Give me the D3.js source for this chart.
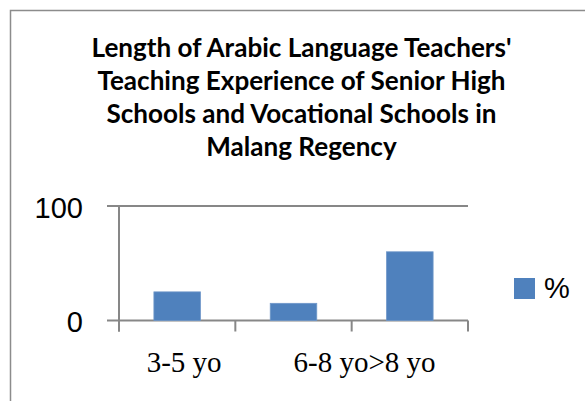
<!DOCTYPE html>
<html>
<head>
<meta charset="utf-8">
<script src="https://cdn.jsdelivr.net/npm/d3@7"></script>
<style>
  html, body { margin: 0; padding: 0; background: #fff; overflow: hidden; }
  svg { display: block; }
</style>
</head>
<body>
<svg id="chart" width="585" height="401"></svg>
<script>
const titleLines = [
  "Length of Arabic Language Teachers'",
  "Teaching Experience of Senior High",
  "Schools and Vocational Schools in",
  "Malang Regency"
];
const categories = ["3-5 yo", "6-8 yo", ">8 yo"];
const seriesName = "%";
const values = [25, 15, 60];
const yTicks = [0, 100];

const svg = d3.select("#chart");
const gridColor = "#878787";
const barColor = "#4F81BD";

// outer chart border (extends beyond the viewport on right/bottom)
svg.append("rect")
  .attr("x", 10.5).attr("y", 10.5)
  .attr("width", 700).attr("height", 500)
  .attr("fill", "none").attr("stroke", "#8c8c8c").attr("stroke-width", 1.5);

// title
const title = svg.append("text")
  .attr("text-anchor", "middle")
  .attr("font-family", "Lato, 'Open Sans', sans-serif")
  .attr("font-weight", "bold")
  .attr("font-size", 22)
  .attr("fill", "#000");
titleLines.forEach((l, i) => {
  title.append("tspan").attr("x", 301.5).attr("y", 57 + i * 33).text(l);
});
// fit first line to target width
const firstLen = title.select("tspan").node().getComputedTextLength();
if (firstLen > 0) title.attr("font-size", 22 * 420 / firstLen);

const x = d3.scaleBand().domain(categories).range([119, 468])
  .paddingInner(0.6).paddingOuter(0.3);
const y = d3.scaleLinear().domain([0, 100]).range([320.5, 206]);

// horizontal grid / axis lines
svg.append("g").selectAll("line").data(yTicks).join("line")
  .attr("x1", 107).attr("x2", 468)
  .attr("y1", d => y(d)).attr("y2", d => y(d))
  .attr("stroke", gridColor).attr("stroke-width", 2);

// y tick labels
svg.append("g").selectAll("text").data(yTicks).join("text")
  .attr("x", 83).attr("y", d => y(d) + 11.5)
  .attr("text-anchor", "end")
  .attr("font-family", "'Liberation Sans', Arial, sans-serif")
  .attr("font-size", 29)
  .attr("fill", "#000")
  .text(d => d);

// bars
svg.append("g").selectAll("rect").data(values).join("rect")
  .attr("x", (d, i) => x(categories[i]))
  .attr("y", d => y(d))
  .attr("width", x.bandwidth())
  .attr("height", d => y(0) - y(d))
  .attr("fill", barColor)
  .attr("stroke", "#6f97c9").attr("stroke-width", 0.8);

// vertical axis
svg.append("line")
  .attr("x1", 119).attr("x2", 119)
  .attr("y1", y(100)).attr("y2", y(0) + 11)
  .attr("stroke", gridColor).attr("stroke-width", 2);

// category boundary ticks
const step = x.step();
const bounds = d3.range(categories.length + 1).map(i => 119 + i * step);
svg.append("g").selectAll("line").data(bounds).join("line")
  .attr("x1", d => d).attr("x2", d => d)
  .attr("y1", y(0)).attr("y2", y(0) + 11)
  .attr("stroke", gridColor).attr("stroke-width", 2);

// category labels (Excel-style overlapping placement)
const lblFont = "'Liberation Serif', 'Times New Roman', serif";
const catMid = c => x(c) + x.bandwidth() / 2;
svg.append("text")
  .attr("x", catMid(categories[0]) + 7).attr("y", 372)
  .attr("text-anchor", "middle")
  .attr("font-family", lblFont).attr("font-size", 29).attr("fill", "#000")
  .text(categories[0]);
const t2 = svg.append("text")
  .attr("x", catMid(categories[1])).attr("y", 372)
  .attr("text-anchor", "start")
  .attr("font-family", lblFont).attr("font-size", 29).attr("fill", "#000");
t2.append("tspan").text(categories[1]);
t2.append("tspan").text(categories[2]);

// legend
svg.append("rect")
  .attr("x", 514).attr("y", 278).attr("width", 21).attr("height", 21)
  .attr("fill", barColor);
svg.append("text")
  .attr("x", 544).attr("y", 298)
  .attr("font-family", "'Liberation Sans', Arial, sans-serif")
  .attr("font-size", 29).attr("fill", "#000")
  .text(seriesName);
</script>
</body>
</html>
